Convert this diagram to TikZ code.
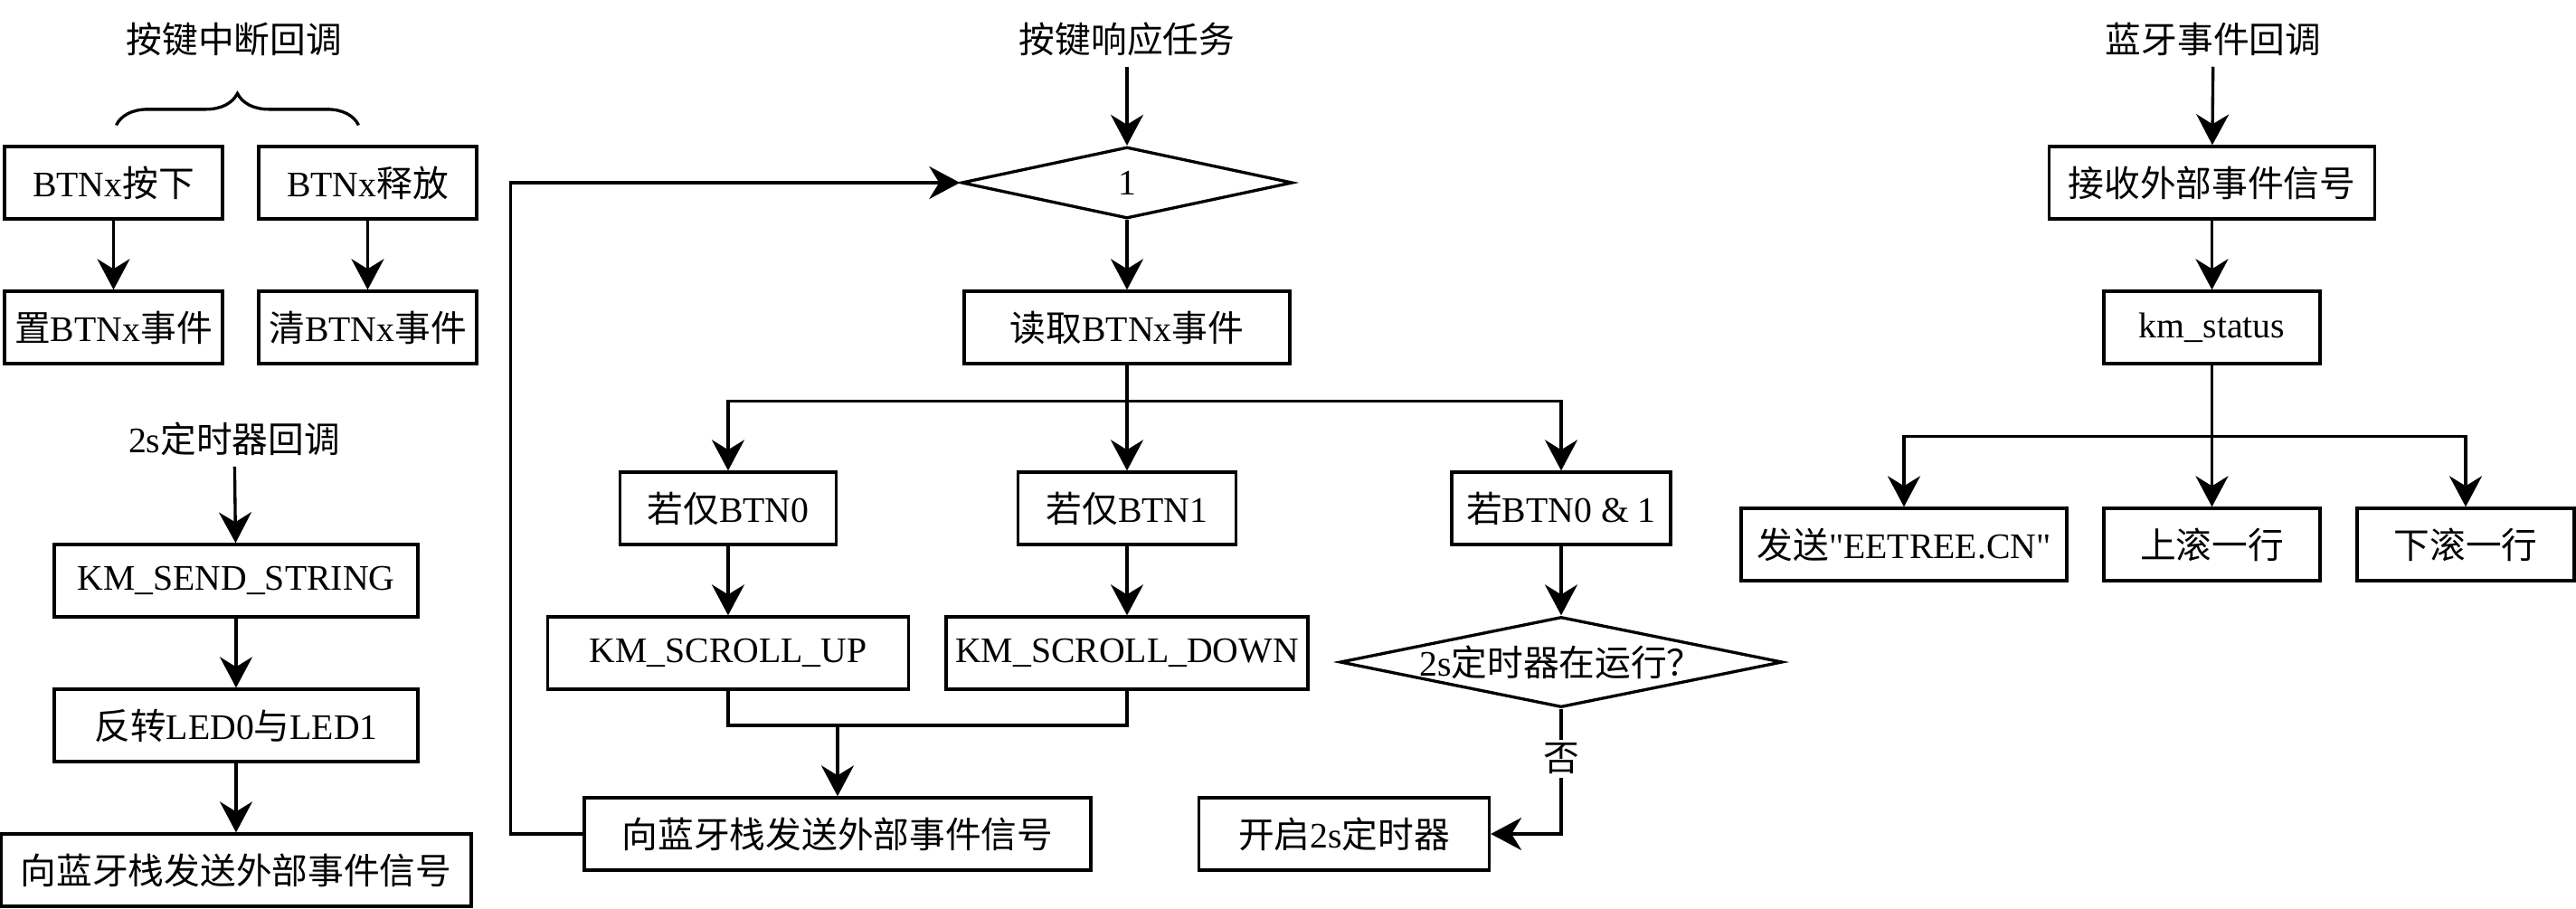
\documentclass[tikz,border=0pt]{standalone}
\usepackage{fontspec}
\setmainfont{Liberation Serif}[Ligatures=TeXOff]
\newfontfamily\cjk{Noto Sans CJK SC}
\newcommand{\zh}[1]{{\cjk #1}}
\usetikzlibrary{arrows.meta, shapes.geometric, decorations.pathreplacing, positioning}

\begin{document}
\begin{tikzpicture}[node distance=1.6cm, font=\fontsize{11.3}{13.6}\selectfont,
  box/.style={draw, rectangle, line width=0.95pt, minimum height=0.8cm, inner sep=0pt},
  dec/.style={draw, diamond, line width=0.95pt, inner sep=0pt},
  arr/.style={-{Stealth[length=3.4mm, width=3.6mm, inset=1.1mm]}, line width=0.95pt},
  conn/.style={line width=0.95pt}]
\useasboundingbox (0,0) rectangle (28.48,-10.04);

\node  (t1) at (2.59,-0.43) {\zh{按键中断回调}};
\node  (b1)[box, minimum width=2.41cm] at (1.255,-2.02) {BTNx\zh{按下}};
\node  (b2)[box, minimum width=2.41cm] at (4.065,-2.02) {BTNx\zh{释放}};
\node  (b3)[box, minimum width=2.41cm] [  below  of = b1] {\zh{置}BTNx\zh{事件}};
\node  (b4)[box, minimum width=2.41cm] [  below  of = b2] {\zh{清}BTNx\zh{事件}};
\node  (t2) at (2.59,-4.85) {2s\zh{定时器回调}};
\node  (c1)[box, minimum width=4.02cm] at (2.61,-6.42) {KM\_SEND\_STRING};
\node  (c2)[box, minimum width=4.02cm] [  below  of = c1] {\zh{反转}LED0\zh{与}LED1};
\node  (c3)[box, minimum width=5.2cm] [  below  of = c2] {\zh{向蓝牙栈发送外部事件信号}};

\node  (t3) at (12.46,-0.43) {\zh{按键响应任务}};
\node  (d1)[dec, minimum width=3.66cm, minimum height=0.79cm] at (12.46,-2.02) {1};
\node  (m1)[box, minimum width=3.6cm] [  below  of = d1] {\zh{读取}BTNx\zh{事件}};
\node  (m3)[box, minimum width=2.41cm] [  below  of = m1, node distance=2cm] {\zh{若仅}BTN1};
\node  (m2)[box, minimum width=2.39cm] at (8.05,-5.62) {\zh{若仅}BTN0};
\node  (m4)[box, minimum width=2.42cm] at (17.26,-5.62) {\zh{若}BTN0 \& 1};
\node  (m5)[box, minimum width=3.99cm] [  below  of = m2] {KM\_SCROLL\_UP};
\node  (m6)[box, minimum width=4cm] [  below  of = m3] {KM\_SCROLL\_DOWN};
\node  (d2)[dec, minimum width=4.89cm, minimum height=1cm, label=center:{2s\zh{定时器在运行？}}] at (17.26,-7.32) {};
\node  (m7)[box, minimum width=5.6cm] at (9.26,-9.22) {\zh{向蓝牙栈发送外部事件信号}};
\node  (m8)[box, minimum width=3.21cm] at (14.86,-9.22) {\zh{开启}2s\zh{定时器}};
\coordinate (mg) at (9.26,-8.02);

\node  (t4) at (24.47,-0.43) {\zh{蓝牙事件回调}};
\node  (r1)[box, minimum width=3.6cm] at (24.455,-2.02) {\zh{接收外部事件信号}};
\node  (r2)[box, minimum width=2.39cm] [  below  of = r1] {km\_status};
\node  (r4)[box, minimum width=2.39cm] [  below  of = r2, node distance=2.4cm] {\zh{上滚一行}};
\node  (r3)[box, minimum width=3.6cm] at (21.05,-6.02) {\zh{发送}"EETREE.CN"};
\node  (r5)[box, minimum width=2.4cm] at (27.26,-6.02) {\zh{下滚一行}};

\draw[conn, decorate, decoration={brace, amplitude=0.35cm}] ([xshift=0.03cm, yshift=0.22cm]b1.north) -- ([xshift=-0.1cm, yshift=0.22cm]b2.north);
\draw[arr] (b1) -- (b3);
\draw[arr] (b2) -- (b4);
\draw[arr] (t2) -- (c1);
\draw[arr] (c1) -- (c2);
\draw[arr] (c2) -- (c3);
\draw[arr] (t3) -- (d1);
\draw[arr] (d1) -- (m1);
\draw[arr] (m1) -- (m3);
\draw[arr] (m1.south) -- ++(0,-0.4) -| (m2);
\draw[arr] (m1.south) -- ++(0,-0.4) -| (m4);
\draw[arr] (m2) -- (m5);
\draw[arr] (m3) -- (m6);
\draw[arr] (m4) -- (d2);
\draw[conn] (m5) |- (mg) -| (m6);
\draw[arr] (mg) -- (m7);
\draw[arr] (m7.west) -- ++(-0.8,0) |- (d1);
\draw[arr] (d2) |- node[pos=0.2, fill=white, inner sep=1pt] {\zh{否}} (m8);
\draw[arr] (t4) -- (r1);
\draw[arr] (r1) -- (r2);
\draw[arr] (r2) -- (r4);
\draw[arr] (r2.south) -- ++(0,-0.79) -| (r3);
\draw[arr] (r2.south) -- ++(0,-0.79) -| (r5);
\end{tikzpicture}
\end{document}
